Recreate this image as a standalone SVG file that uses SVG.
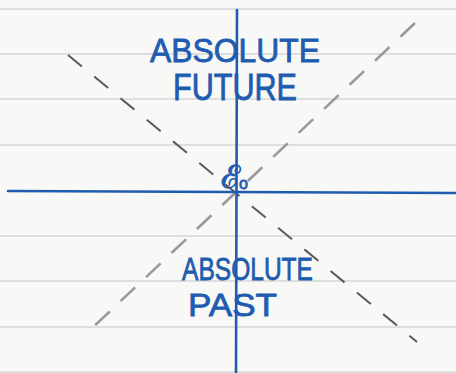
<svg xmlns="http://www.w3.org/2000/svg" width="456" height="373" viewBox="0 0 456 373">
<style>
.rule{stroke:#d6d6d6;stroke-width:1.5}
.ink{stroke:#1f5cb0;stroke-width:2.6;fill:none;stroke-linecap:round}
.dashA{stroke:#5a5a5a;stroke-width:2;stroke-dasharray:18 16;fill:none}
.dashB{stroke:#9a9a9a;stroke-width:2.6;stroke-dasharray:20 15;fill:none}
.lbl{font-family:"Liberation Sans",Arial,sans-serif;fill:#1f5cb0;stroke:#1f5cb0;stroke-width:0.8}
</style>
<rect width="456" height="373" fill="#f8f8f6"/>
<g id="paper">
<line class="rule" x1="0" y1="9" x2="456" y2="9"/>
<line class="rule" x1="0" y1="54" x2="456" y2="54"/>
<line class="rule" x1="0" y1="99" x2="456" y2="99"/>
<line class="rule" x1="0" y1="145" x2="456" y2="145"/>
<line class="rule" x1="0" y1="236" x2="456" y2="236"/>
<line class="rule" x1="0" y1="281" x2="456" y2="281"/>
<line class="rule" x1="0" y1="327" x2="456" y2="327"/>
<line class="rule" x1="0" y1="372" x2="456" y2="372"/>
</g>
<g id="connectors">
<line class="dashA" x1="68" y1="55" x2="417" y2="342"/>
<line class="dashB" x1="415" y1="23" x2="89" y2="331"/>
<line class="ink" x1="237" y1="10" x2="236" y2="373"/>
<line class="ink" x1="8" y1="191" x2="456" y2="193"/>
</g>
<g id="future">
<text class="lbl" x="150" y="62" font-size="33" textLength="170" lengthAdjust="spacingAndGlyphs">ABSOLUTE</text>
<text class="lbl" x="173" y="100" font-size="36" textLength="124" lengthAdjust="spacingAndGlyphs">FUTURE</text>
</g>
<g id="event">
<text class="lbl" x="221" y="188" font-size="32" font-family="DejaVu Serif" stroke-width="0.6">ℰ<tspan font-size="16" font-family="Liberation Sans" dx="-1" dy="1">o</tspan></text>
</g>
<g id="past">
<text class="lbl" x="182" y="280" font-size="32" textLength="131" lengthAdjust="spacingAndGlyphs">ABSOLUTE</text>
<text class="lbl" x="188" y="316" font-size="32" textLength="89" lengthAdjust="spacingAndGlyphs">PAST</text>
</g>
</svg>
